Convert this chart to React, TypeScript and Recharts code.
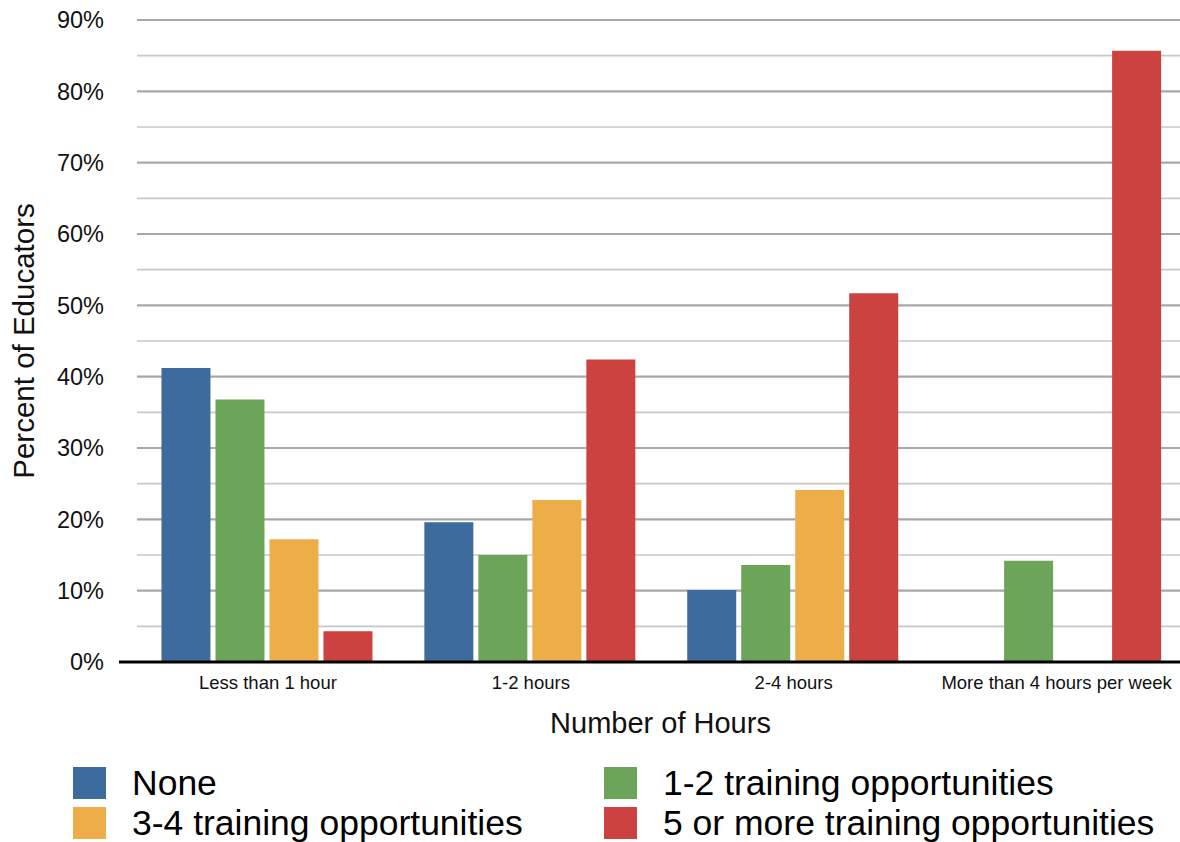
import { BarChart, Bar, XAxis, YAxis, CartesianGrid, Legend } from 'recharts';

const HOURS = ['Less than 1 hour', '1-2 hours', '2-4 hours', 'More than 4 hours per week'];
const NONE = [41.2, 19.6, 10.1, 0];
const ONE_TWO = [36.8, 15.0, 13.6, 14.2];
const THREE_FOUR = [17.2, 22.7, 24.1, 0];
const FIVE_PLUS = [4.3, 42.4, 51.7, 85.7];
const Y_TICKS = [0, 5, 10, 15, 20, 25, 30, 35, 40, 45, 50, 55, 60, 65, 70, 75, 80, 85, 90];

const SERIES = [
  { key: 'none', label: 'None', color: '#3D6B9D', values: NONE },
  { key: 'oneTwo', label: '1-2 training opportunities', color: '#6CA45A', values: ONE_TWO },
  { key: 'threeFour', label: '3-4 training opportunities', color: '#EDAE4A', values: THREE_FOUR },
  { key: 'fivePlus', label: '5 or more training opportunities', color: '#CB4240', values: FIVE_PLUS },
];

const data = HOURS.map((h, i) => {
  const row: Record<string, string | number> = { hours: h };
  SERIES.forEach((s) => {
    row[s.key] = s.values[i];
  });
  return row;
});

const FONT = '"Liberation Sans", Arial, Helvetica, sans-serif';

// major lines every 10%, lighter ones at the 5% steps in between
function GridLine(props: any) {
  const major = props.index === undefined || props.index % 2 === 0;
  return (
    <line
      key={props.key}
      x1={props.x1 + 18}
      x2={props.x2}
      y1={props.y1}
      y2={props.y2}
      stroke={major ? '#a8a8a8' : '#c8c8c8'}
      strokeWidth={major ? 2.2 : 1.6}
    />
  );
}

function LegendBox() {
  return (
    <div
      style={{
        width: 1180,
        height: 80,
        boxSizing: 'border-box',
        paddingTop: 5,
        paddingLeft: 73,
        display: 'grid',
        gridTemplateColumns: '531px 560px',
        gridAutoRows: '40px',
        fontFamily: FONT,
        fontSize: 35.5,
        color: '#000',
      }}
    >
      {SERIES.map((s) => (
        <div key={s.key} style={{ display: 'flex', alignItems: 'center', height: 32 }}>
          <span style={{ width: 33, height: 32, background: s.color, display: 'inline-block' }} />
          <span style={{ marginLeft: 26, whiteSpace: 'nowrap', lineHeight: '32px' }}>{s.label}</span>
        </div>
      ))}
    </div>
  );
}

export default function App() {
  return (
    <div style={{ position: 'absolute', left: 0, top: 0, width: 1180, height: 842, overflow: 'hidden', background: '#fff' }}>
      <BarChart
        width={1188}
        height={842}
        data={data}
        margin={{ top: 20, right: 0, bottom: 0, left: 0 }}
        barCategoryGap="9.5%"
        barGap={5}
      >
        <CartesianGrid vertical={false} horizontal={GridLine} />
        <XAxis
          dataKey="hours"
          height={100}
          interval={0}
          padding={{ left: 17.5, right: 0 }}
          tickLine={false}
          tickMargin={8}
          axisLine={{ stroke: '#000', strokeWidth: 3 }}
          tick={{ fontSize: 18.5, fill: '#111', fontFamily: FONT }}
          label={{
            value: 'Number of Hours',
            position: 'insideBottom',
            offset: 29,
            dx: 7,
            style: { fontSize: 29, fill: '#111', fontFamily: FONT },
          }}
        />
        <YAxis
          width={119}
          domain={[0, 90]}
          ticks={Y_TICKS}
          interval={0}
          axisLine={false}
          tickLine={false}
          tickMargin={9}
          tickFormatter={(v: number) => (v % 10 === 0 ? `${v}%` : '')}
          tick={{ fontSize: 23.5, fill: '#111', fontFamily: FONT }}
          label={{
            value: 'Percent of Educators',
            angle: -90,
            position: 'insideLeft',
            offset: 24,
            style: { textAnchor: 'middle', fontSize: 29.5, fill: '#111', fontFamily: FONT },
          }}
        />
        <Legend verticalAlign="bottom" height={80} wrapperStyle={{ left: 0, bottom: 0 }} content={<LegendBox />} />
        {SERIES.map((s) => (
          <Bar key={s.key} dataKey={s.key} name={s.label} fill={s.color} isAnimationActive={false} />
        ))}
      </BarChart>
    </div>
  );
}
